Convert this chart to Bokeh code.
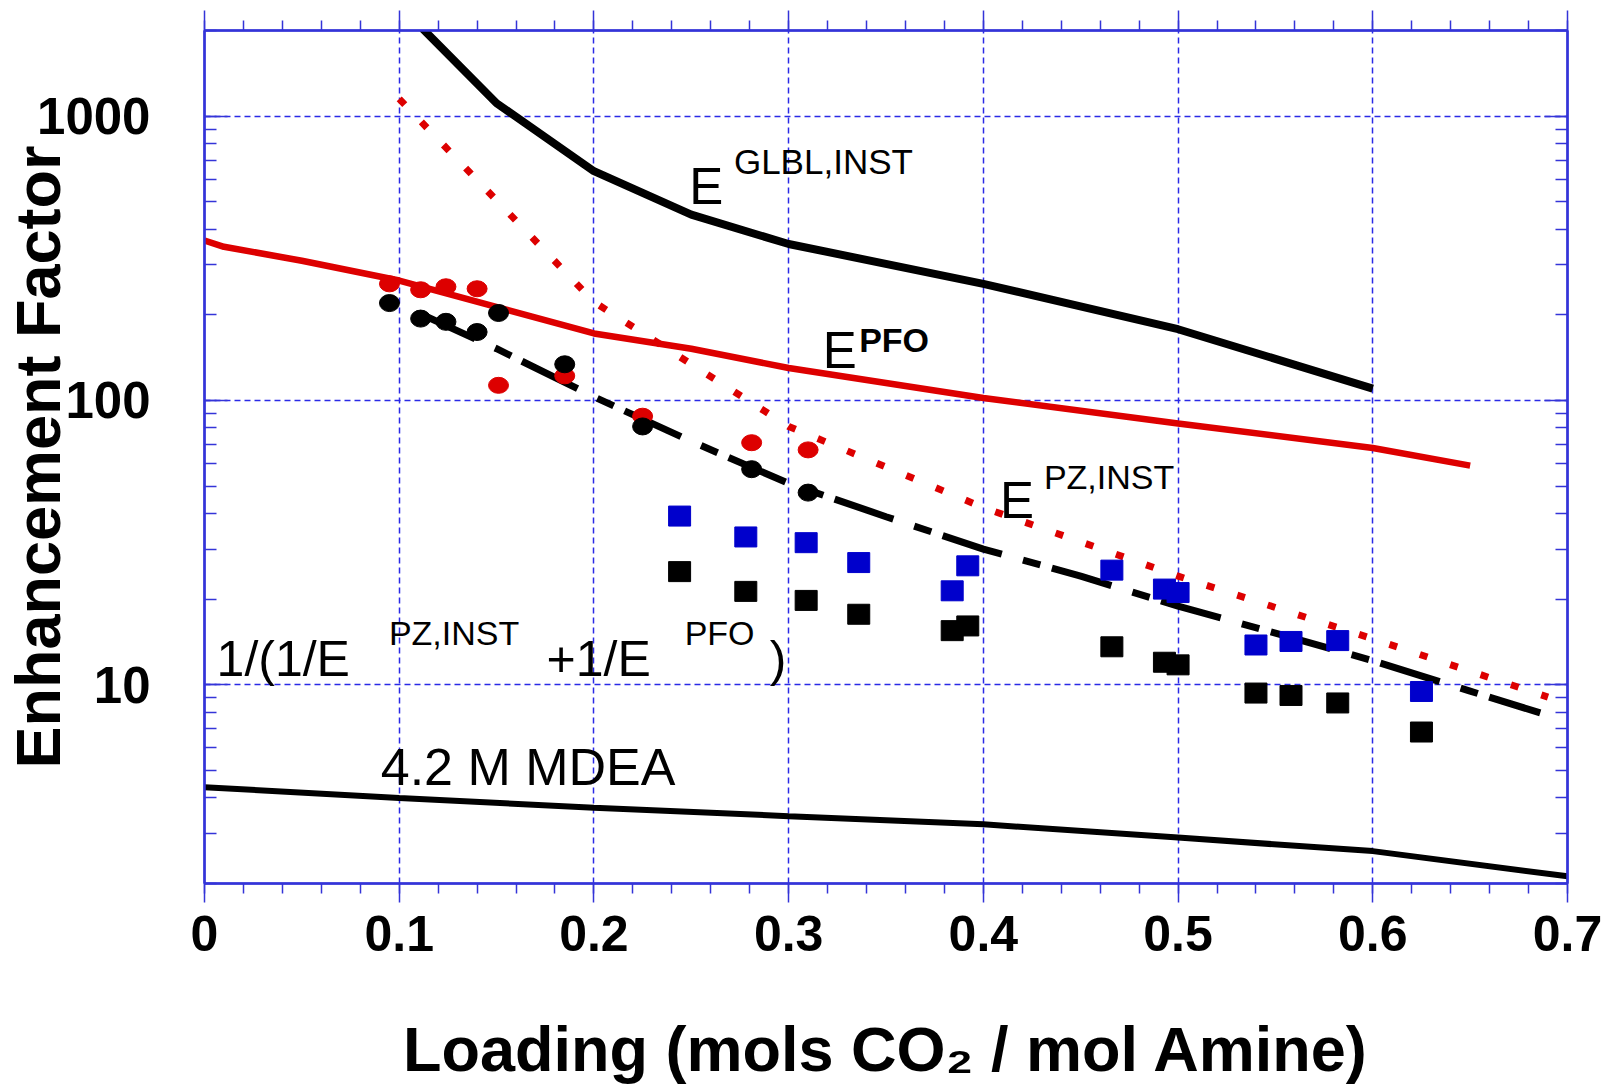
from bokeh.plotting import figure
from bokeh.models import FixedTicker, LinearAxis, LogAxis, Label
from bokeh.embed import file_html
from bokeh.resources import INLINE

# ---------------- data ----------------
# E^GLBL,INST (solid black)
glbl_x = [0.112, 0.15, 0.2, 0.25, 0.3, 0.4, 0.5, 0.6]
glbl_y = [2030, 1110, 640, 450, 355, 257, 178, 110]

# E^PFO (solid red)
pfo_x = [0.0, 0.01, 0.05, 0.1, 0.2, 0.25, 0.3, 0.4, 0.5, 0.6, 0.65]
pfo_y = [365, 347, 310, 264, 172, 152, 130, 102, 83, 68, 59]

# E^PZ,INST (dotted red)
pz_x = [0.1, 0.2, 0.3, 0.4, 0.5, 0.6, 0.69]
pz_y = [1150, 222, 81, 42, 24.1, 14.5, 9.05]

# 1/(1/E^PZ,INST + 1/E^PFO) (dashed black)
comb_x = [0.11, 0.15, 0.2, 0.25, 0.3, 0.35, 0.4, 0.45, 0.5, 0.55, 0.6, 0.65, 0.686]
comb_y = [203, 152, 103, 71.8, 51.1, 39.0, 30.0, 24.1, 18.9, 15.2, 12.15, 9.5, 7.96]

# 4.2 M MDEA (solid black)
mdea_x = [0.0, 0.1, 0.2, 0.3, 0.4, 0.5, 0.6, 0.7]
mdea_y = [4.36, 4.00, 3.69, 3.45, 3.23, 2.90, 2.60, 2.12]

# circles
red_circ_x = [0.095, 0.111, 0.124, 0.140, 0.151, 0.185, 0.225, 0.281, 0.310]
red_circ_y = [257, 245, 251, 247, 113, 122, 88, 71, 67]
blk_circ_x = [0.095, 0.111, 0.124, 0.140, 0.151, 0.185, 0.225, 0.281, 0.310]
blk_circ_y = [220, 194, 189, 174, 203, 134, 81, 57.3, 47.4]

# squares
sq_x = [0.244, 0.278, 0.309, 0.336, 0.384, 0.392, 0.466, 0.493, 0.500, 0.540, 0.558, 0.582, 0.625]
blue_sq_y = [39.2, 33.1, 31.6, 26.9, 21.4, 26.2, 25.3, 21.7, 21.1, 13.8, 14.2, 14.3, 9.47]
blk_sq_y = [25.0, 21.3, 19.8, 17.7, 15.5, 16.1, 13.6, 12.0, 11.75, 9.35, 9.17, 8.63, 6.82]

# ticks
x_ticks = [0.0, 0.1, 0.2, 0.3, 0.4, 0.5, 0.6, 0.7]
x_tick_labels = ["0", "0.1", "0.2", "0.3", "0.4", "0.5", "0.6", "0.7"]
x_minor = [round(0.02 * i, 2) for i in range(36)]
y_ticks = [10, 100, 1000]
y_tick_labels = ["10", "100", "1000"]
y_minor = [m * 10 ** e for e in range(0, 4) for m in range(1, 10) if 2 <= m * 10 ** e <= 2000]

x_title = "Loading (mols CO\u2082 / mol Amine)"
y_title = "Enhancement Factor"

# ---------------- styling ----------------
FONT = "Liberation Sans"
AXIS_BLUE = "#3434d8"
GRID_BLUE = "#2a2ae6"
RED = "#dd0000"
BLUE = "#0000cc"

p = figure(width=1602, height=1087, x_range=(0, 0.7), y_range=(2, 2000),
           y_axis_type="log", output_backend="svg", toolbar_location=None,
           min_border_left=200, min_border_right=35, min_border_top=30,
           min_border_bottom=204)
p.background_fill_color = "white"
p.border_fill_color = "white"
p.outline_line_color = AXIS_BLUE
p.outline_line_width = 2

xt = FixedTicker(ticks=x_ticks, minor_ticks=x_minor)
yt = FixedTicker(ticks=y_ticks, minor_ticks=y_minor)

xa = p.xaxis[0]
ya = p.yaxis[0]
xa.ticker = xt
ya.ticker = yt
p.xgrid.ticker = xt
p.ygrid.ticker = yt
p.grid.grid_line_color = GRID_BLUE
p.grid.grid_line_dash = "6 4"
p.grid.grid_line_width = 1.5


def style_axis(ax, tin, tout, min_in, min_out):
    ax.axis_line_color = AXIS_BLUE
    ax.axis_line_width = 2.5
    ax.major_tick_line_color = AXIS_BLUE
    ax.minor_tick_line_color = AXIS_BLUE
    ax.major_tick_line_width = 1.5
    ax.minor_tick_line_width = 1.5
    ax.major_tick_in = tin
    ax.major_tick_out = tout
    ax.minor_tick_in = min_in
    ax.minor_tick_out = min_out


style_axis(xa, 0, 19, 0, 10)
xa.major_label_overrides = dict(zip(x_ticks, x_tick_labels))
xa.major_label_text_font = FONT
xa.major_label_text_font_size = "50px"
xa.major_label_text_font_style = "bold"
xa.major_label_text_color = "black"
xa.major_label_standoff = 13
xa.axis_label = x_title
xa.axis_label_text_font = FONT
xa.axis_label_text_font_size = "63px"
xa.axis_label_text_font_style = "bold"
xa.axis_label_text_color = "black"
xa.axis_label_standoff = 60

style_axis(ya, 23, 0, 12, 0)
ya.major_label_overrides = dict(zip(y_ticks, y_tick_labels))
ya.major_label_text_font = FONT
ya.major_label_text_font_size = "51px"
ya.major_label_text_font_style = "bold"
ya.major_label_text_color = "black"
ya.major_label_standoff = 54
ya.axis_label = y_title
ya.axis_label_text_font = FONT
ya.axis_label_text_font_size = "63px"
ya.axis_label_text_font_style = "bold"
ya.axis_label_text_color = "black"
ya.axis_label_standoff = -39

top = LinearAxis(ticker=xt, major_label_text_color=None)
style_axis(top, 0, 20, 0, 10)
p.add_layout(top, "above")

right = LogAxis(ticker=yt, major_label_text_color=None)
style_axis(right, 23, 0, 12, 0)
p.add_layout(right, "right")

# ---------------- glyphs ----------------
p.line(pfo_x, pfo_y, line_color=RED, line_width=6.5)
p.line(glbl_x, glbl_y, line_color="black", line_width=8)
p.line(mdea_x, mdea_y, line_color="black", line_width=6)
p.line(pz_x, pz_y, line_color=RED, line_width=7, line_dash="8 24")
p.line(comb_x, comb_y, line_color="black", line_width=7, line_dash="62 22 18 12")

p.ellipse(x=red_circ_x, y=red_circ_y, width=20, height=16, width_units="screen",
          height_units="screen", fill_color=RED, line_color=RED)
p.ellipse(x=blk_circ_x, y=blk_circ_y, width=20, height=17, width_units="screen",
          height_units="screen", fill_color="black", line_color="black")
p.rect(x=sq_x, y=blue_sq_y, width=22, height=20, width_units="screen",
       height_units="screen", fill_color=BLUE, line_color=BLUE)
p.rect(x=sq_x, y=blk_sq_y, width=22, height=20, width_units="screen",
       height_units="screen", fill_color="black", line_color="black")


# ---------------- texts in the plot area ----------------
def lab(x, y, text, size, style="normal"):
    p.add_layout(Label(x=x, y=y, text=text, text_font=FONT, text_font_size=size,
                       text_font_style=style, text_color="black", text_align="left",
                       text_baseline="alphabetic"))


lab(0.2489, 566, "E", "51px")
lab(0.2719, 690, "GLBL,INST", "35px")
lab(0.3175, 150, "E", "51px")
lab(0.3362, 162.5, "PFO", "34px", style="bold")
lab(0.4085, 44.6, "E", "51px")
lab(0.4311, 53.9, "PZ,INST", "34px")
lab(0.0062, 12.27, "1/(1/E", "50px")
lab(0.0947, 15.15, "PZ,INST", "34px")
lab(0.1757, 12.27, "+1/E", "50px")
lab(0.2466, 15.15, "PFO", "34px")
lab(0.2903, 12.27, ")", "50px")
lab(0.0905, 5.15, "4.2 M MDEA", "52px")

open("out.html", "w").write(file_html(p, INLINE))
